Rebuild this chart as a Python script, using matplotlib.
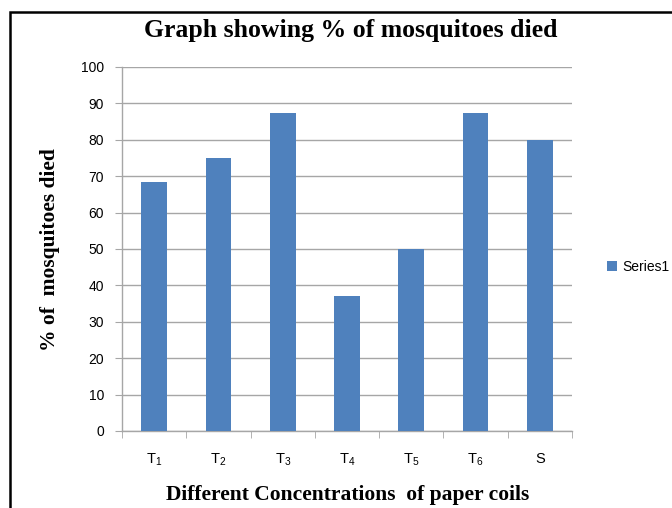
import matplotlib
matplotlib.use("Agg")
import matplotlib.pyplot as plt
from matplotlib.patches import Rectangle

categories = ["$\\mathregular{T_1}$", "$\\mathregular{T_2}$", "$\\mathregular{T_3}$",
              "$\\mathregular{T_4}$", "$\\mathregular{T_5}$", "$\\mathregular{T_6}$", "S"]
died_pct = [68.5, 75, 87.5, 37, 50, 87.5, 80]
y_ticks = [0, 10, 20, 30, 40, 50, 60, 70, 80, 90, 100]


def main():
    fig = plt.figure(figsize=(6.72, 5.08), dpi=100)
    ax = fig.add_axes([122 / 672, 1 - 431 / 508, 450 / 672, 364 / 508])

    x = list(range(len(categories)))
    ax.bar(x, died_pct, width=0.4, color="#4F81BD", label="Series1", zorder=3)

    ax.set_xlim(-0.5, len(categories) - 0.5)
    ax.set_ylim(0, 100)
    ax.set_yticks(y_ticks)
    ax.yaxis.grid(True, color="#A6A6A6", linewidth=1.0, zorder=0)

    # category labels in the middle, tick marks on the boundaries
    ax.set_xticks(x)
    ax.set_xticklabels(categories, fontfamily="Liberation Sans", fontsize=10.5)
    ax.tick_params(axis="x", which="major", length=0, pad=15)
    ax.set_xticks([i - 0.5 for i in range(len(categories) + 1)], minor=True)
    ax.tick_params(axis="x", which="minor", length=5, color="#A6A6A6", direction="out")
    ax.tick_params(axis="y", length=5, color="#A6A6A6", labelsize=10, pad=8)
    for lab in ax.get_yticklabels():
        lab.set_fontfamily("Liberation Sans")

    for side in ["top", "right"]:
        ax.spines[side].set_visible(False)
    for side in ["left", "bottom"]:
        ax.spines[side].set_color("#A6A6A6")
        ax.spines[side].set_linewidth(1.0)

    fig.text(351 / 672, 1 - 30 / 508, "Graph showing % of mosquitoes died",
             ha="center", va="center", fontfamily="Liberation Serif",
             fontweight="bold", fontsize=18.5)
    fig.text(348 / 672, 1 - 495 / 508, "Different Concentrations  of paper coils",
             ha="center", va="center", fontfamily="Liberation Serif",
             fontweight="bold", fontsize=15.5)
    fig.text(50 / 672, 1 - 250 / 508, "% of  mosquitoes died", rotation=90,
             ha="center", va="center", fontfamily="Liberation Serif",
             fontweight="bold", fontsize=15.5)

    ax.legend(loc="center left", bbox_to_anchor=(1.05, 0.45), frameon=False,
              handlelength=0.7, handleheight=0.7, handletextpad=0.4,
              prop={"family": "Liberation Sans", "size": 10})

    # frame around the picture
    fig.patches.append(Rectangle((10 / 672, -0.1), 1.2, 1 - 12 / 508 + 0.1,
                                 transform=fig.transFigure, fill=False,
                                 edgecolor="black", linewidth=1.8))

    fig.savefig("out.png", dpi=100)


if __name__ == "__main__":
    main()
